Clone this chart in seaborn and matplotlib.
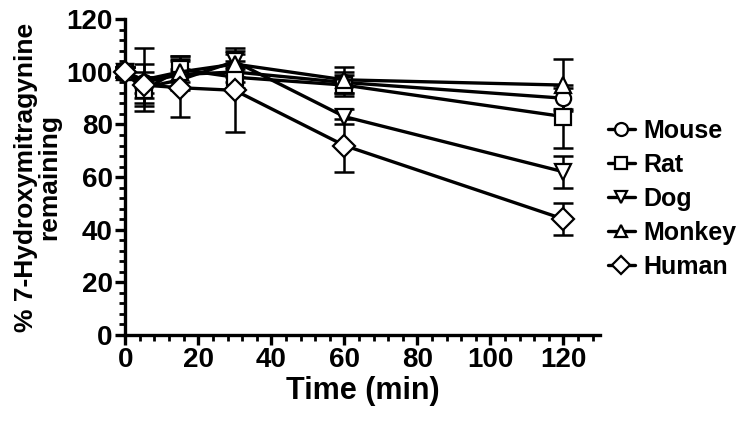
import numpy as np
import pandas as pd
import matplotlib
matplotlib.use("Agg")
import matplotlib.pyplot as plt
from matplotlib.ticker import MultipleLocator
import seaborn as sns

# Data (mean and SD of % remaining)
time_min = [0, 5, 15, 30, 60, 120]
species = ["Mouse", "Rat", "Dog", "Monkey", "Human"]

mouse = [100, 96, 99, 100, 96, 90]
rat = [100, 93, 101, 98, 95, 83]
dog = [100, 94, 97, 104, 83, 62]
monkey = [100, 97, 100, 103, 97, 95]
human = [100, 95, 94, 93, 72, 44]

mouse_sd = [2, 4, 5, 4, 4, 4]
rat_sd = [2, 5, 5, 4, 4, 12]
dog_sd = [2, 4, 4, 3, 3, 6]
monkey_sd = [2, 12, 6, 5, 5, 10]
human_sd = [2, 8, 11, 16, 10, 6]

means = [mouse, rat, dog, monkey, human]
sds = [mouse_sd, rat_sd, dog_sd, monkey_sd, human_sd]
marker_map = {"Mouse": "o", "Rat": "s", "Dog": "v", "Monkey": "^", "Human": "D"}

df = pd.DataFrame({
    "Time": np.tile(time_min, len(species)),
    "Species": np.repeat(species, len(time_min)),
    "Remaining": np.concatenate(means),
    "SD": np.concatenate(sds),
})

sns.set_style("ticks")
plt.rcParams["font.family"] = ["Liberation Sans", "DejaVu Sans"]
plt.rcParams["font.weight"] = "bold"
for key in ["text.color", "axes.labelcolor", "xtick.color", "ytick.color", "axes.edgecolor"]:
    plt.rcParams[key] = "black"

fig = plt.figure(figsize=(7.5, 4.22), dpi=100)
ax = fig.add_axes([0.167, 0.207, 0.633, 0.747])

# Error bars first, drawn behind markers
for name in species:
    sub = df[df["Species"] == name]
    ax.errorbar(sub["Time"], sub["Remaining"], yerr=sub["SD"], fmt="none",
                ecolor="black", elinewidth=1.8, capsize=7, capthick=1.8,
                zorder=2, clip_on=False)

sns.lineplot(data=df, x="Time", y="Remaining", style="Species",
             markers=marker_map, dashes=False, color="black", linewidth=2.4,
             markersize=11, markerfacecolor="white", markeredgecolor="black",
             markeredgewidth=1.6, ax=ax, zorder=3, clip_on=False)

ax.set_xlim(0, 130)
ax.set_ylim(0, 120)
ax.xaxis.set_major_locator(MultipleLocator(20))
ax.xaxis.set_minor_locator(MultipleLocator(4))
ax.yaxis.set_major_locator(MultipleLocator(20))
ax.yaxis.set_minor_locator(MultipleLocator(4))

sns.despine(ax=ax)
for side in ["left", "bottom"]:
    ax.spines[side].set_linewidth(2.4)
ax.tick_params(which="major", length=7, width=2.4, labelsize=20, direction="out", pad=2)
ax.tick_params(which="minor", length=4, width=2.0, direction="out")
for lab in ax.get_xticklabels() + ax.get_yticklabels():
    lab.set_fontweight("bold")

ax.set_xlabel("Time (min)", fontsize=22, fontweight="bold", labelpad=2)
ax.set_ylabel("% 7-Hydroxymitragynine\nremaining", fontsize=19,
              fontweight="bold", labelpad=4, linespacing=0.95)

handles, labels = ax.get_legend_handles_labels()
leg = ax.legend(handles, labels, loc="center left", bbox_to_anchor=(1.0, 0.43),
                frameon=False, fontsize=18, handlelength=1.1, handletextpad=0.35,
                labelspacing=0.4, markerscale=0.85, borderaxespad=0.2,
                borderpad=0.1)
for t in leg.get_texts():
    t.set_fontweight("bold")

fig.savefig("out.png", dpi=100)
